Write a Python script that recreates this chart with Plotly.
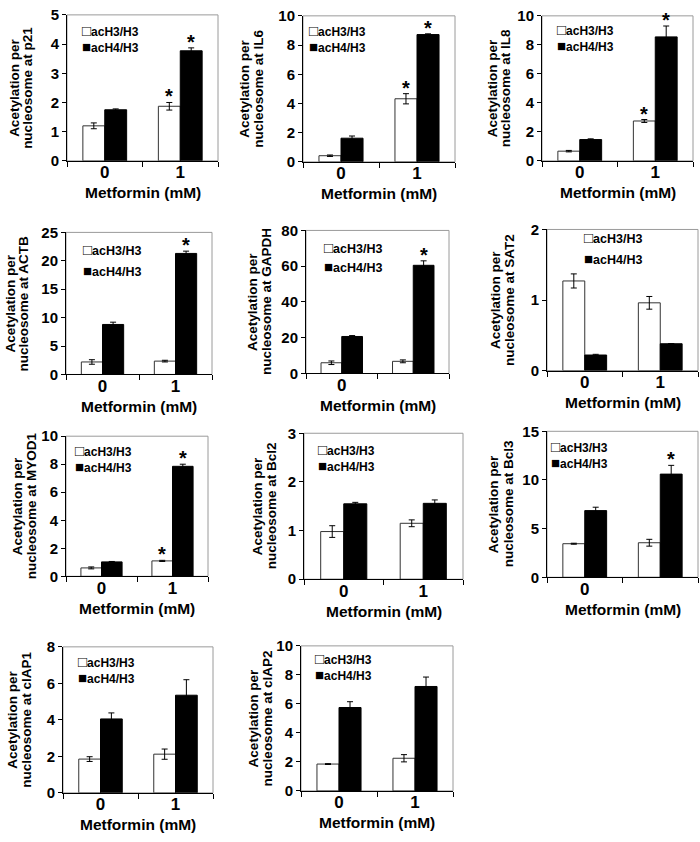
import plotly.graph_objects as go

# data: acetylation per nucleosome, metformin 0 / 1 mM
genes = ["p21", "IL6", "IL8", "ACTB", "GAPDH", "SAT2", "MYOD1", "Bcl2", "Bcl3", "cIAP1", "cIAP2"]
doses = [0, 1]
dose_labels = [["0", "1"], ["0", "1"], ["0", "1"], ["0", "1"], ["0", ""], ["0", "1"],
               ["0", "1"], ["0", "1"], ["0", ""], ["0", "1"], ["0", "1"]]

h3_mean = [[1.2, 1.87], [0.42, 4.32], [0.67, 2.75], [2.2, 2.35], [6.0, 6.8], [1.27, 0.96],
           [0.6, 1.1], [0.98, 1.15], [3.45, 3.55], [1.85, 2.12], [1.85, 2.25]]
h3_err = [[0.1, 0.13], [0.05, 0.35], [0.05, 0.1], [0.4, 0.15], [1.0, 0.8], [0.1, 0.09],
          [0.07, 0.04], [0.12, 0.07], [0.05, 0.35], [0.13, 0.28], [0.03, 0.25]]
h4_mean = [[1.75, 3.77], [1.62, 8.72], [1.47, 8.55], [8.8, 21.3], [20.7, 60.5], [0.22, 0.38],
           [1.03, 7.85], [1.55, 1.56], [6.85, 10.6], [4.05, 5.35], [5.75, 7.2]]
h4_err = [[0.03, 0.1], [0.15, 0.05], [0.05, 0.75], [0.4, 0.4], [0.5, 2.5], [0.01, 0.0],
          [0.03, 0.15], [0.03, 0.07], [0.35, 0.9], [0.33, 0.85], [0.4, 0.65]]
h3_star = [[0, 1], [0, 1], [0, 1], [0, 0], [0, 0], [0, 0], [0, 1], [0, 0], [0, 0], [0, 0], [0, 0]]
h4_star = [[0, 1], [0, 1], [0, 1], [0, 1], [0, 1], [0, 0], [0, 1], [0, 0], [0, 1], [0, 0], [0, 0]]
y_max = [5, 10, 10, 25, 80, 2, 10, 3, 15, 8, 10]
y_step = [1, 2, 2, 5, 20, 1, 2, 1, 5, 2, 2]

# panel boxes in pixels: left, right, top, bottom of plot area
boxes = [(67, 218, 6, 155), (303, 455, 7, 156), (542, 693, 7, 155),
         (66, 212, 228, 373), (306, 449, 226, 372), (547, 698, 225, 369),
         (66, 208, 436, 579), (304, 463, 433, 582), (547, 698, 431, 580),
         (63, 213, 651, 800), (301, 453, 650, 798)]
# legend: left x, centre y of line 1, centre y of line 2
legend_pos = [(80, 23, 37), (307, 23, 38), (555, 22, 36), (81, 245, 267), (322, 243, 263),
              (582, 233, 255), (73, 452, 466), (316, 451, 464), (549, 447, 462),
              (76, 667, 682), (313, 663, 679)]
# y title line offsets from the y axis
ytitle_off = [(-52, -39), (-58, -44), (-50, -37), (-56, -43), (-53, -39), (-52, -38),
              (-49, -35), (-47, -33), (-54, -39), (-50, -36), (-48, -34)]

W, H = 700, 842
FONT = "Liberation Sans, Arial, sans-serif"
bw = 0.29

def px(x):
    return x / W

def py(y):
    return 1 - y / H

def f(size):
    return dict(family=FONT, size=size, color="black", weight="bold")

def sq(ch):
    return '<span style="font-size:15px">' + ch + '</span>'

fig = go.Figure()
annotations = []
shapes = []
layout = {}

for i, gene in enumerate(genes):
    n = i + 1
    xa = "x" if n == 1 else "x%d" % n
    ya = "y" if n == 1 else "y%d" % n
    l, r, t, b = boxes[i]

    fig.add_trace(go.Bar(x=doses, y=h3_mean[i], width=bw, offset=-bw, xaxis=xa, yaxis=ya,
                         marker=dict(color="white", line=dict(color="#333333", width=1)),
                         error_y=dict(type="data", array=h3_err[i], color="black", thickness=1, width=3),
                         showlegend=False, name="acH3/H3"))
    fig.add_trace(go.Bar(x=doses, y=h4_mean[i], width=bw, offset=0, xaxis=xa, yaxis=ya,
                         marker=dict(color="black", line=dict(color="black", width=1)),
                         error_y=dict(type="data", array=h4_err[i], color="black", thickness=1, width=3),
                         showlegend=False, name="acH4/H3"))

    layout["xaxis" if n == 1 else "xaxis%d" % n] = dict(
        domain=[px(l), px(r)], anchor=ya, range=[-0.5, 1.5],
        tickmode="array", tickvals=doses, ticktext=dose_labels[i], ticks="", ticklen=0,
        tickfont=f(17), ticklabelstandoff=-4,
        showline=True, linecolor="black", linewidth=1, showgrid=False, zeroline=False,
        minor=dict(tickmode="array", tickvals=[-0.5, 0.5, 1.5], ticks="outside",
                   ticklen=5, tickcolor="black", showgrid=False))
    layout["yaxis" if n == 1 else "yaxis%d" % n] = dict(
        domain=[py(b), py(t)], anchor=xa, range=[0, y_max[i]], dtick=y_step[i], tick0=0,
        ticks="outside", ticklen=4, tickcolor="black", tickfont=f(15),
        showline=True, linecolor="black", linewidth=1, showgrid=False, zeroline=False)

    # gray frame on top/right
    shapes.append(dict(type="rect", xref=xa + " domain", yref=ya + " domain",
                       x0=0, x1=1, y0=0, y1=1, line=dict(color="#9a9a9a", width=1), layer="below"))

    # stars
    for j in range(2):
        if h3_star[i][j]:
            annotations.append(dict(x=doses[j] - bw / 2, y=h3_mean[i][j] + h3_err[i][j], xref=xa, yref=ya,
                                    text="*", showarrow=False, yanchor="bottom", yshift=-7, font=f(20)))
        if h4_star[i][j]:
            annotations.append(dict(x=doses[j] + bw / 2, y=h4_mean[i][j] + h4_err[i][j], xref=xa, yref=ya,
                                    text="*", showarrow=False, yanchor="bottom", yshift=-7, font=f(20)))

    # x title
    annotations.append(dict(x=0.5, y=0, xref=xa + " domain", yref=ya + " domain",
                            text="Metformin (mM)", showarrow=False, yanchor="middle",
                            yshift=-32, font=f(15.5)))
    # y title (two lines)
    o1, o2 = ytitle_off[i]
    annotations.append(dict(x=px(l + o1), y=0.5, xref="paper", yref=ya + " domain",
                            text="Acetylation per", showarrow=False, textangle=-90,
                            xanchor="center", yanchor="middle", font=f(13.5)))
    annotations.append(dict(x=px(l + o2), y=0.5, xref="paper", yref=ya + " domain",
                            text="nucleosome at " + gene, showarrow=False, textangle=-90,
                            xanchor="center", yanchor="middle", font=f(13.5)))
    # legend
    lx, ly1, ly2 = legend_pos[i]
    if ly2 - ly1 < 18:
        annotations.append(dict(x=px(lx), y=py((ly1 + ly2) / 2), xref="paper", yref="paper",
                                text=sq("□") + "acH3/H3<br>" + sq("■") + "acH4/H3", align="left",
                                showarrow=False, xanchor="left", yanchor="middle", font=f(12)))
    else:
        annotations.append(dict(x=px(lx), y=py(ly1), xref="paper", yref="paper",
                                text=sq("□") + "acH3/H3", showarrow=False,
                                xanchor="left", yanchor="middle", font=f(12.5)))
        annotations.append(dict(x=px(lx), y=py(ly2), xref="paper", yref="paper",
                                text=sq("■") + "acH4/H3", showarrow=False,
                                xanchor="left", yanchor="middle", font=f(12.5)))

fig.update_layout(**layout)
fig.update_layout(width=W, height=H, margin=dict(l=0, r=0, t=0, b=0),
                  paper_bgcolor="white", plot_bgcolor="white", barmode="overlay",
                  font=f(12), annotations=annotations, shapes=shapes, showlegend=False)

# drop the default body margin so the 700x842 figure fills the window
fig.write_html("out.html", config={"displayModeBar": False},
               post_script="document.body.style.margin='0';")
